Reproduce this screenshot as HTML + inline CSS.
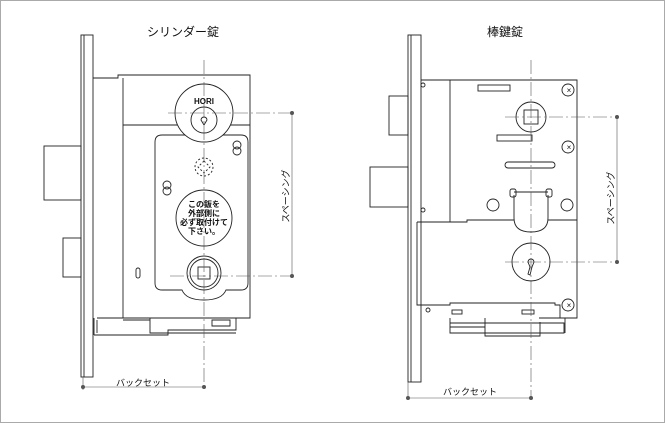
<!DOCTYPE html>
<html><head><meta charset="utf-8"><style>
html,body{margin:0;padding:0;background:#fff}
svg{display:block}
text{font-family:"Liberation Sans","Noto Sans CJK JP",sans-serif;fill:#111}
</style></head><body>
<svg width="665" height="423" viewBox="0 0 665 423" xmlns="http://www.w3.org/2000/svg">
<rect x="0.5" y="0.5" width="664" height="422" fill="#fff" stroke="#aaa"/>
<g fill="none" stroke="#222" stroke-width="0.9">
<rect x="81" y="35" width="12" height="342"/>
<line x1="84" y1="35" x2="84" y2="377"/>
<polyline points="93,78 118,78 118,75 250,75 250,318 118,318"/>
<line x1="123" y1="78" x2="123" y2="318"/>
<line x1="123" y1="125" x2="250" y2="125"/>
<rect x="44" y="146" width="37" height="54"/>
<rect x="63" y="238" width="18" height="39"/>
<path d="M162,135 H241 Q248,135 248,142 V283 Q248,290 241,290 H226 Q222,300 204,300 Q186,300 182,290 H162 Q155,290 155,283 V142 Q155,135 162,135 Z"/>
<circle cx="204" cy="113" r="29" fill="#fff"/>
<circle cx="204" cy="120" r="13"/>
<path d="M201,120 a3,3 0 1 1 6,0 l-3,5 z"/>
<circle cx="237" cy="145" r="4"/><circle cx="237" cy="151" r="4"/>
<circle cx="167" cy="185" r="4"/><circle cx="167" cy="191" r="4"/>
<circle cx="204" cy="167" r="9" stroke-dasharray="2,2"/>
<path d="M204,161 L210,167 L204,173 L198,167 Z" stroke-dasharray="2,2"/>
<circle cx="204" cy="218" r="28"/>
<circle cx="204" cy="273" r="17"/><circle cx="204" cy="273" r="14"/>
<rect x="198" y="267" width="12" height="12"/>
<rect x="136" y="268" width="4" height="10" rx="2"/>
<path d="M94,318 V335 M97,318 H236 V330 H168 V335 H94 M97,320 V333 M150,318 V333 H236 M123,320 H150 V330 M212,320 H230 V326 H212 Z"/>
<rect x="408" y="35" width="13" height="347"/>
<line x1="411" y1="35" x2="411" y2="382"/>
<polyline points="421,80 577,80 577,318 540,318"/>
<line x1="450" y1="80" x2="450" y2="222"/>
<path d="M417,222 H467 V220 H514 M548,220 H577"/>
<path d="M514,195 V218 Q514,232 531,232 Q548,232 548,218 V195 M514,192 H548"/>
<path d="M417,222 V305 H450 V303 H555 V305 H560 V318"/>
<rect x="370" y="167" width="38" height="40"/>
<rect x="389" y="96" width="19" height="39"/>
<circle cx="531" cy="117" r="15"/><rect x="524" y="110" width="14" height="14"/>
<circle cx="531" cy="262" r="19"/>
<path d="M528,262 a3,3 0 1 1 6,0 l-2,5 -2,8 -2,-1 2,-7 z"/>
<circle cx="568" cy="90" r="6"/><circle cx="568" cy="147" r="6"/><circle cx="568" cy="305" r="6"/>
<rect x="478" y="85" width="32" height="6"/>
<rect x="497" y="135" width="35" height="6"/>
<rect x="505" y="162" width="50" height="6" rx="3"/>
<circle cx="493" cy="205" r="6"/><circle cx="567" cy="205" r="6"/>
<rect x="510" y="189" width="6" height="8" rx="2"/><rect x="546" y="189" width="6" height="8" rx="2"/>
<circle cx="423" cy="85" r="2"/><circle cx="423" cy="210" r="2"/><circle cx="428" cy="310" r="2"/>
<path d="M450,318 V333 H564 V323 H450 M485,318 V336 H540 V322 M539,318 H565 V333 M450,327 H485"/>
<rect x="452" y="310" width="10" height="4"/><rect x="522" y="310" width="12" height="4"/>
</g>
<g fill="#222" stroke="none">
<text x="569" y="93" text-anchor="middle" font-size="8">×</text>
<text x="569" y="150" text-anchor="middle" font-size="8">×</text>
<text x="569" y="308" text-anchor="middle" font-size="8">×</text>
</g>
<g stroke="#555" stroke-width="0.6" fill="none">
<line x1="204" y1="60" x2="204" y2="388" stroke-dasharray="14,3,2,3"/>
<line x1="531" y1="60" x2="531" y2="398" stroke-dasharray="14,3,2,3"/>
<line x1="168" y1="113" x2="292" y2="113" stroke-dasharray="14,3,2,3"/>
<line x1="170" y1="276" x2="292" y2="276" stroke-dasharray="14,3,2,3"/>
<line x1="292" y1="113" x2="292" y2="276"/>
<line x1="505" y1="117" x2="617" y2="117" stroke-dasharray="14,3,2,3"/>
<line x1="505" y1="262" x2="617" y2="262" stroke-dasharray="14,3,2,3"/>
<line x1="617" y1="117" x2="617" y2="262"/>
<line x1="83" y1="377" x2="83" y2="390"/>
<line x1="83" y1="387" x2="204" y2="387"/>
<line x1="408" y1="382" x2="408" y2="400"/>
<line x1="408" y1="398" x2="531" y2="398"/>
</g>
<g fill="#555">
<circle cx="292" cy="113" r="2"/><circle cx="292" cy="276" r="2"/>
<circle cx="617" cy="117" r="2"/><circle cx="617" cy="262" r="2"/>
<circle cx="83" cy="387" r="2"/><circle cx="204" cy="387" r="2"/>
<circle cx="408" cy="398" r="2"/><circle cx="531" cy="398" r="2"/>
</g>
<text x="183" y="36" text-anchor="middle" font-size="12">シリンダー錠</text>
<text x="505" y="36" text-anchor="middle" font-size="12">棒鍵錠</text>
<text x="204" y="104" text-anchor="middle" font-size="8" fill="#555" font-weight="bold">HORI</text>
<g font-size="8" font-weight="bold" text-anchor="middle">
<text x="204" y="207">この鈑を</text>
<text x="204" y="216">外部側に</text>
<text x="204" y="225">必ず取付けて</text>
<text x="204" y="234">下さい。</text>
</g>
<text x="143" y="386" text-anchor="middle" font-size="9">バックセット</text>
<text x="470" y="395" text-anchor="middle" font-size="9">バックセット</text>
<text transform="translate(289,196) rotate(-90)" text-anchor="middle" font-size="9">スペーシング</text>
<text transform="translate(614,198) rotate(-90)" text-anchor="middle" font-size="9">スペーシング</text>
</svg>
</body></html>
